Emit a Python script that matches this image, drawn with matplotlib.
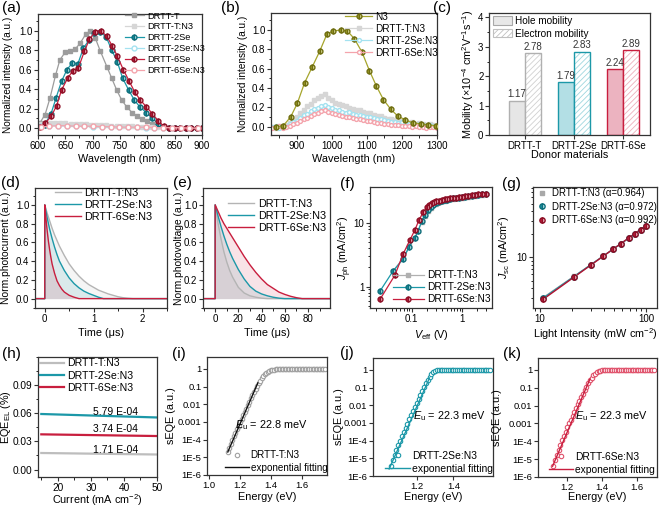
import matplotlib
matplotlib.use("Agg")
import matplotlib.pyplot as plt
from matplotlib.ticker import MultipleLocator, FixedLocator, FixedFormatter, NullLocator, LogLocator, NullFormatter, FormatStrFormatter
from matplotlib.patches import Patch

plt.rcParams['font.family'] = ['Liberation Sans', 'DejaVu Sans']
plt.rcParams['font.size'] = 7
plt.rcParams['mathtext.fontset'] = 'custom'
plt.rcParams['mathtext.rm'] = 'Liberation Sans'
plt.rcParams['mathtext.it'] = 'Liberation Sans:italic'
plt.rcParams['mathtext.bf'] = 'Liberation Sans:bold'
plt.rcParams['hatch.linewidth'] = 0.6

GRAY = '#9c9c9c'
TEAL = '#1c98a8'
RED = '#c81e3e'
LGRAY = '#d6d6d6'
LCYAN = '#a4e2f0'
LPINK = '#f4a4ac'
OLIVE = '#a6a52c'

# ---------------- (a) PL of neat films and blends ----------------
wl_T = [603, 613, 622, 632, 640, 650, 659, 668, 677, 687, 696, 705, 714, 726, 735, 744,
        753, 762, 772, 781, 790, 800, 809, 818]
pl_T = [0.05, 0.14, 0.31, 0.54, 0.70, 0.78, 0.79, 0.81, 0.87, 0.96, 1.00, 0.92, 0.79, 0.63,
        0.51, 0.39, 0.29, 0.22, 0.16, 0.12, 0.09, 0.07, 0.045, 0.024]
wl_2Se = [612, 624, 633, 643, 653, 663, 673, 683, 693, 703, 714, 725, 735, 745, 755, 766,
          776, 786, 798, 809, 820, 830, 840, 850, 860, 870, 880, 890, 900]
pl_2Se = [0.035, 0.15, 0.31, 0.48, 0.60, 0.67, 0.66, 0.82, 0.90, 0.98, 0.99, 0.93, 0.80,
          0.68, 0.51, 0.39, 0.29, 0.22, 0.16, 0.10, 0.045, 0.01, 0.0, 0.0, 0.0, 0.0, 0.0, 0.0, 0.0]
wl_6Se = [603, 613, 624, 634, 643, 654, 664, 674, 685, 694, 705, 715, 726, 736, 745, 756,
          767, 777, 787, 798, 809, 820, 830, 840, 850, 860, 870, 880, 890, 900]
pl_6Se = [0.01, 0.05, 0.12, 0.23, 0.39, 0.51, 0.59, 0.62, 0.79, 0.91, 0.99, 1.00, 0.94, 0.84,
          0.74, 0.60, 0.48, 0.37, 0.29, 0.22, 0.15, 0.075, 0.02, 0.0, 0.0, 0.0, 0.0, 0.0, 0.0, 0.0]
wl_TN3 = [603, 613, 622, 632, 641, 650, 660, 669, 678, 688, 697, 706, 716, 725, 734, 744,
          753, 762, 772, 781, 790, 800, 809, 818]
pl_TN3 = [0.04, 0.05, 0.05, 0.055, 0.05, 0.05, 0.045, 0.045, 0.04, 0.04, 0.035, 0.035, 0.03,
          0.03, 0.025, 0.025, 0.02, 0.02, 0.02, 0.015, 0.015, 0.01, 0.01, 0.01]
wl_blend = [605, 621, 637, 653, 669, 685, 701, 717, 733, 749, 765, 781, 797, 813, 829, 845,
            861, 877, 893]
pl_2SeN3 = [0.02, 0.025, 0.025, 0.02, 0.02, 0.02, 0.015, 0.015, 0.01, 0.01, 0.01, 0.01, 0.005,
            0.005, 0.005, 0.0, 0.0, 0.0, 0.0]
pl_6SeN3 = [0.01, 0.02, 0.025, 0.025, 0.02, 0.02, 0.02, 0.015, 0.015, 0.01, 0.01, 0.01, 0.01,
            0.005, 0.005, 0.005, 0.005, 0.0, 0.0]

# ---------------- (b) PL of N3 and blends ----------------
wl_N3 = [840, 861, 882, 901, 922, 944, 965, 986, 1004, 1025, 1044, 1064, 1086, 1107, 1127,
         1147, 1168, 1188, 1210, 1231, 1253, 1274, 1296]
pl_N3 = [0.0, 0.01, 0.10, 0.24, 0.455, 0.62, 0.78, 0.96, 0.99, 1.00, 0.99, 0.91, 0.77, 0.58,
         0.42, 0.28, 0.18, 0.11, 0.07, 0.04, 0.03, 0.02, 0.01]
wl_b = [830, 840, 850, 860, 870, 880, 890, 900, 910, 920, 930, 940, 950, 960, 970, 980, 990,
        1000, 1010, 1020, 1030, 1040, 1050, 1060, 1070, 1080, 1090, 1100, 1110, 1120, 1130,
        1140, 1150, 1160, 1170, 1180, 1190, 1200, 1210, 1220, 1230, 1240, 1250, 1260, 1270,
        1280, 1290, 1300]
pl_b_T = [0.00, -0.01, 0.01, 0.00, 0.02, 0.04, 0.06, 0.10, 0.14, 0.17, 0.21, 0.23, 0.28,
          0.30, 0.32, 0.34, 0.30, 0.28, 0.24, 0.23, 0.22, 0.21, 0.19, 0.18, 0.17, 0.17, 0.15,
          0.14, 0.14, 0.12, 0.11, 0.11, 0.09, 0.08, 0.08, 0.07, 0.06, 0.06, 0.05, 0.04, 0.05,
          0.03, 0.04, 0.03, 0.02, 0.03, 0.02, 0.01]
pl_b_2Se = [0.00, 0.01, -0.01, 0.01, 0.00, 0.03, 0.05, 0.06, 0.09, 0.12, 0.13, 0.16, 0.18,
            0.19, 0.21, 0.22, 0.20, 0.19, 0.17, 0.17, 0.15, 0.14, 0.15, 0.13, 0.12, 0.12, 0.11,
            0.10, 0.10, 0.09, 0.08, 0.08, 0.07, 0.06, 0.05, 0.05, 0.04, 0.05, 0.03, 0.03, 0.03,
            0.02, 0.03, 0.02, 0.01, 0.02, 0.01, 0.01]
pl_b_6Se = [-0.01, 0.00, 0.01, -0.01, 0.00, 0.01, 0.03, 0.04, 0.06, 0.08, 0.09, 0.11, 0.13,
            0.14, 0.16, 0.17, 0.15, 0.14, 0.13, 0.12, 0.11, 0.10, 0.10, 0.09, 0.08, 0.08, 0.07,
            0.06, 0.06, 0.05, 0.04, 0.04, 0.03, 0.03, 0.02, 0.02, 0.02, 0.01, 0.01, 0.01, 0.00,
            0.01, 0.00, 0.00, -0.01, 0.00, 0.00, -0.01]

# ---------------- (c) mobilities ----------------
donors = ['DRTT-T', 'DRTT-2Se', 'DRTT-6Se']
hole_mob = [1.17, 1.79, 2.24]
elec_mob = [2.78, 2.83, 2.89]

# ---------------- (d) TPC ----------------
tpc_t_T = [-0.2, 0.0, 0.0, 0.05, 0.1, 0.15, 0.2, 0.3, 0.4, 0.5, 0.6, 0.7, 0.8, 0.9, 1.0, 1.1,
           1.2, 1.3, 1.4, 1.5, 1.6, 1.7, 1.8, 2.7]
tpc_T = [0, 0, 1.0, 0.91, 0.83, 0.75, 0.68, 0.56, 0.46, 0.37, 0.30, 0.24, 0.19, 0.15, 0.12,
         0.09, 0.07, 0.05, 0.035, 0.02, 0.01, 0.004, 0.0, 0.0]
tpc_t_2Se = [-0.2, 0.0, 0.0, 0.05, 0.1, 0.15, 0.2, 0.25, 0.3, 0.4, 0.5, 0.6, 0.7, 0.8, 0.9,
             1.0, 1.1, 1.2, 2.7]
tpc_2Se = [0, 0, 1.0, 0.86, 0.74, 0.64, 0.55, 0.47, 0.40, 0.30, 0.22, 0.16, 0.115, 0.08,
           0.055, 0.035, 0.015, 0.0, 0.0]
tpc_t_6Se = [-0.2, 0.0, 0.0, 0.025, 0.05, 0.075, 0.1, 0.125, 0.15, 0.2, 0.25, 0.3, 0.35, 0.4,
             0.5, 0.6, 0.7, 2.7]
tpc_6Se = [0, 0, 1.0, 0.85, 0.72, 0.61, 0.52, 0.44, 0.37, 0.27, 0.19, 0.14, 0.10, 0.07,
           0.035, 0.015, 0.0, 0.0]

# ---------------- (e) TPV ----------------
tpv_t_T = [-10, 0, 0, 2.5, 5, 7.5, 10, 12.5, 15, 20, 25, 30, 35, 40, 45, 100]
tpv_T = [0, 0, 1.0, 0.80, 0.64, 0.50, 0.39, 0.30, 0.23, 0.12, 0.06, 0.03, 0.015, 0.005, 0.0, 0.0]
tpv_t_2Se = [-10, 0, 0, 2.5, 5, 7.5, 10, 12.5, 15, 20, 25, 30, 35, 40, 45, 50, 55, 60, 100]
tpv_2Se = [0, 0, 1.0, 0.88, 0.77, 0.67, 0.58, 0.50, 0.43, 0.31, 0.21, 0.13, 0.08, 0.05, 0.03,
           0.015, 0.005, 0.0, 0.0]
tpv_t_6Se = [-10, 0, 0, 2.5, 5, 7.5, 10, 12.5, 15, 20, 25, 30, 35, 40, 45, 50, 55, 60, 65, 70,
             75, 100]
tpv_6Se = [0, 0, 1.0, 0.93, 0.86, 0.80, 0.75, 0.70, 0.65, 0.55, 0.45, 0.36, 0.28, 0.21, 0.15,
           0.11, 0.07, 0.045, 0.025, 0.01, 0.0, 0.0]

# ---------------- (f) Jph vs Veff ----------------
veff_T = [0.043, 0.068, 0.09, 0.116, 0.135, 0.158, 0.183, 0.21, 0.24, 0.27, 0.31, 0.35, 0.40,
          0.45, 0.50, 0.57, 0.65, 0.75, 0.87, 1.0, 1.15, 1.33, 1.55, 1.8, 2.1, 2.5, 3.0]
jph_T = [1.75, 2.8, 4.3, 5.9, 7.6, 10.3, 13.0, 15.5, 17.5, 19.0, 20.3, 21.2, 22.0, 22.6, 23.1,
         23.6, 24.0, 24.4, 24.8, 25.2, 25.6, 26.1, 26.6, 27.0, 27.4, 27.8, 28.2]
veff_2Se = [0.0237, 0.0433, 0.068, 0.0897, 0.116, 0.135, 0.158, 0.183, 0.21, 0.24, 0.27, 0.31,
            0.35, 0.40, 0.45, 0.50, 0.57, 0.65, 0.75, 0.87, 1.0, 1.15, 1.33, 1.55, 1.8, 2.1,
            2.5, 3.0]
jph_2Se = [0.85, 1.78, 2.7, 4.27, 5.8, 7.6, 10.6, 13.5, 15.8, 17.8, 19.2, 20.5, 21.4, 22.3,
           22.9, 23.4, 23.9, 24.4, 24.8, 25.2, 25.6, 26.0, 26.5, 27.0, 27.4, 27.8, 28.2, 28.6]
veff_6Se = [0.0237, 0.0468, 0.068, 0.093, 0.116, 0.141, 0.17, 0.198, 0.22, 0.25, 0.28, 0.31,
            0.35, 0.40, 0.45, 0.50, 0.57, 0.65, 0.75, 0.87, 1.0, 1.15, 1.33, 1.55, 1.8, 2.1,
            2.5, 3.0]
jph_6Se = [0.63, 1.52, 3.27, 5.45, 7.8, 11.3, 14.9, 17.6, 19.2, 20.4, 21.2, 21.9, 22.5, 23.1,
           23.6, 24.0, 24.4, 24.8, 25.2, 25.6, 26.0, 26.4, 26.9, 27.4, 27.8, 28.2, 28.6, 29.0]

# ---------------- (g) Jsc vs light intensity ----------------
light = [10.7, 21, 30, 39.6, 49, 58, 69, 78.7, 89, 100]
jsc_T = [3.0, 5.7, 8.0, 10.5, 12.9, 15.1, 17.8, 20.2, 22.6, 25.2]
jsc_2Se = [2.95, 5.6, 7.95, 10.4, 12.8, 15.1, 17.8, 20.2, 22.7, 25.5]
jsc_6Se = [2.85, 5.5, 7.9, 10.4, 12.8, 15.1, 17.9, 20.4, 23.0, 25.9]
fit_light = [10.7, 100]
fit_T = [3.0, 25.2]
fit_2Se = [2.95, 25.5]
fit_6Se = [2.85, 25.9]
alphas = ['0.964', '0.972', '0.992']

# ---------------- (h) EQE_EL ----------------
cur = [15, 50]
eqe_T = [0.0176, 0.0160]
eqe_2Se = [0.0592, 0.0555]
eqe_6Se = [0.0375, 0.0357]
eqe_lbl = ['1.71 E-04', '5.79 E-04', '3.74 E-04']

# ---------------- (i)-(k) sEQE ----------------
E_i = [1.12, 1.13, 1.14, 1.15, 1.16, 1.17, 1.18, 1.19, 1.20, 1.21, 1.22, 1.23, 1.24, 1.25,
       1.26, 1.27, 1.28, 1.29, 1.30, 1.31, 1.32, 1.33, 1.34, 1.35, 1.36, 1.37, 1.38, 1.39,
       1.40, 1.41, 1.42, 1.43, 1.44, 1.45, 1.46, 1.47, 1.48, 1.49, 1.50, 1.51, 1.52, 1.53,
       1.54, 1.55, 1.56, 1.57, 1.58, 1.59, 1.60, 1.61, 1.62, 1.63, 1.64, 1.65, 1.66, 1.67,
       1.68, 1.69, 1.70, 1.71, 1.72, 1.73, 1.74, 1.75]
lg_i = [-4.70, -4.45, -4.22, -4.02, -3.82, -3.62, -3.42, -3.22, -3.02, -2.82, -2.62, -2.43,
        -2.24, -2.05, -1.86, -1.67, -1.49, -1.31, -1.14, -0.97, -0.81, -0.66, -0.52, -0.40,
        -0.30, -0.22, -0.15, -0.10, -0.07, -0.05, -0.04, -0.03, -0.03, -0.03, -0.03, -0.03,
        -0.02, -0.02, -0.02, -0.02, -0.02, -0.02, -0.02, -0.02, -0.02, -0.01, -0.01, -0.01,
        -0.01, -0.01, -0.01, -0.01, -0.01, -0.01, -0.01, 0.0, 0.0, 0.0, 0.0, 0.0, 0.0, 0.0,
        0.0, 0.0]
fit_i_E = [1.12, 1.315]
fit_i_y = [2.0e-5, 0.16]

E_j = [1.06, 1.07, 1.08, 1.09, 1.10, 1.11, 1.12, 1.13, 1.14, 1.15, 1.16, 1.17, 1.18, 1.19,
       1.20, 1.21, 1.22, 1.23, 1.24, 1.25, 1.26, 1.27, 1.28, 1.29, 1.30, 1.31, 1.32, 1.33,
       1.34, 1.35, 1.36, 1.37, 1.38, 1.39, 1.40, 1.41, 1.42, 1.43, 1.44, 1.45, 1.46, 1.47,
       1.48, 1.49, 1.50, 1.51, 1.52, 1.53, 1.54, 1.55, 1.56, 1.57, 1.58, 1.59, 1.60]
lg_j = [-5.45, -5.10, -4.80, -4.52, -4.25, -4.00, -3.76, -3.52, -3.28, -3.04, -2.80, -2.56,
        -2.32, -2.09, -1.86, -1.63, -1.40, -1.18, -0.96, -0.75, -0.56, -0.39, -0.25, -0.14,
        -0.07, -0.03, -0.02, -0.02, -0.02, -0.01, -0.01, -0.01, -0.01, -0.01, -0.01, -0.01,
        0.0, 0.0, 0.0, 0.0, 0.0, 0.0, 0.0, 0.0, 0.0, 0.0, 0.0, 0.0, 0.0, 0.0, 0.0, 0.0, 0.0,
        0.0, 0.0]
fit_j_E = [1.05, 1.27]
fit_j_y = [2.5e-6, 0.35]

E_k = [1.12, 1.13, 1.14, 1.15, 1.16, 1.17, 1.18, 1.19, 1.20, 1.21, 1.22, 1.23, 1.24, 1.25,
       1.26, 1.27, 1.28, 1.29, 1.30, 1.31, 1.32, 1.33, 1.34, 1.35, 1.36, 1.37, 1.38, 1.39,
       1.40, 1.41, 1.42, 1.43, 1.44, 1.45, 1.46, 1.47, 1.48, 1.49, 1.50, 1.51, 1.52, 1.53,
       1.54, 1.55, 1.56, 1.57, 1.58, 1.59, 1.60, 1.61, 1.62, 1.63, 1.64, 1.65, 1.66, 1.67,
       1.68, 1.69, 1.70]
lg_k = [-5.40, -5.05, -4.75, -4.47, -4.20, -3.94, -3.69, -3.45, -3.22, -3.00, -2.78, -2.56,
        -2.35, -2.14, -1.93, -1.72, -1.52, -1.32, -1.12, -0.93, -0.75, -0.58, -0.43, -0.30,
        -0.20, -0.12, -0.07, -0.04, -0.02, -0.02, -0.01, -0.01, -0.01, -0.01, -0.01, -0.01,
        -0.01, 0.0, 0.0, 0.0, 0.0, 0.0, 0.0, 0.0, 0.0, 0.0, 0.0, 0.0, 0.0, 0.0, 0.0, 0.0, 0.0,
        0.0, 0.0, 0.0, 0.0, 0.0, 0.0]
fit_k_E = [1.115, 1.33]
fit_k_y = [4.0e-6, 0.3]

seqe_ticks = [1e-6, 1e-5, 1e-4, 1e-3, 1e-2, 1e-1, 1]
seqe_lbls = ['1E-6', '1E-5', '1E-4', '0.001', '0.01', '0.1', '1']


def box(l, t, r, b):
    return [l / 661, 1 - b / 507, (r - l) / 661, (b - t) / 507]


def new_ax(l, t, r, b, xl_y, yl_x):
    # axes from pixel box; x/y label centres given in pixels
    ax = fig.add_axes(box(l, t, r, b))
    for s in ax.spines.values():
        s.set_linewidth(0.9)
        s.set_color('#333333')
    ax.tick_params(direction='out', length=3, width=0.8, color='#333333',
                   labelsize=7.0, pad=1.0, top=False, right=False)
    ax.tick_params(which='minor', length=1.8, width=0.6)
    ax.xaxis.set_label_coords(0.5, -((xl_y - 5.5) - b) / (b - t))
    ax.yaxis.set_label_coords((yl_x + 5.5 - l) / (r - l), 0.5)
    return ax


LAB = 7.8
fig = plt.figure(figsize=(6.61, 5.07), dpi=100)

# ---- (a)
ax = new_ax(38, 14, 202, 135, 160, 8)
ax.plot(wl_T, pl_T, color=GRAY, lw=0.9, marker='s', ms=3, label='DRTT-T')
ax.plot(wl_TN3, pl_TN3, color=LGRAY, lw=0.9, marker='s', ms=2.5, label='DRTT-T:N3')
ax.plot(wl_2Se, pl_2Se, color=TEAL, lw=0.9, marker='o', ms=3.5, mec='#0d6f7c',
        fillstyle='left', markerfacecoloralt='#bfe9ee', label='DRTT-2Se')
ax.plot(wl_blend, pl_2SeN3, color=LCYAN, lw=0.9, marker='o', ms=3.5, mfc='white',
        label='DRTT-2Se:N3')
ax.plot(wl_6Se, pl_6Se, color=RED, lw=0.9, marker='o', ms=3.5, mec='#8e0f26',
        fillstyle='left', markerfacecoloralt='#f3b9c4', label='DRTT-6Se')
ax.plot(wl_blend, pl_6SeN3, color=LPINK, lw=0.9, marker='o', ms=3.5, mfc='white',
        label='DRTT-6Se:N3')
ax.set_xlim(600, 900)
ax.set_ylim(-0.07, 1.17)
ax.xaxis.set_major_locator(MultipleLocator(50))
ax.xaxis.set_minor_locator(MultipleLocator(25))
ax.yaxis.set_major_locator(MultipleLocator(0.2))
ax.yaxis.set_minor_locator(MultipleLocator(0.1))
ax.yaxis.set_major_formatter(FormatStrFormatter('%.1f'))
ax.set_xlabel('Wavelength (nm)', fontsize=LAB)
ax.set_ylabel('Normalized intensity (a.u.)', fontsize=7.2)
ax.legend(loc='upper left', bbox_to_anchor=(0.53, 1.02), frameon=False, fontsize=6.7,
          handlelength=2.0, handletextpad=0.4, labelspacing=0.2, borderpad=0, borderaxespad=0)

# ---- (b)
ax = new_ax(271, 13, 437, 135, 160, 243)
ax.plot(wl_N3, pl_N3, color=OLIVE, lw=0.9, marker='o', ms=3.5, mec='#6f6e10',
        fillstyle='left', markerfacecoloralt='#dcdc9a', label='N3', zorder=5)
ax.plot(wl_b, pl_b_T, color=LGRAY, lw=0.9, marker='s', ms=2.3, label='DRTT-T:N3')
ax.plot(wl_b, pl_b_2Se, color=LCYAN, lw=0.9, marker='o', ms=2.8, mfc='white',
        label='DRTT-2Se:N3')
ax.plot(wl_b, pl_b_6Se, color=LPINK, lw=0.9, marker='o', ms=2.8, mfc='white',
        label='DRTT-6Se:N3')
ax.set_xlim(826, 1300)
ax.set_ylim(-0.086, 1.176)
ax.xaxis.set_major_locator(MultipleLocator(100))
ax.xaxis.set_minor_locator(MultipleLocator(50))
ax.yaxis.set_major_locator(MultipleLocator(0.2))
ax.yaxis.set_minor_locator(MultipleLocator(0.1))
ax.yaxis.set_major_formatter(FormatStrFormatter('%.1f'))
ax.set_xlabel('Wavelength (nm)', fontsize=LAB)
ax.set_ylabel('Normalized intensity (a.u.)', fontsize=7.2)
ax.legend(loc='upper left', bbox_to_anchor=(0.446, 1.01), frameon=False, fontsize=7.2,
          handlelength=2.7, handletextpad=0.3, labelspacing=0.2, borderpad=0, borderaxespad=0)

# ---- (c)
ax = new_ax(489, 13, 650, 135, 155, 470)
xs = [0, 1, 2]
bw = 0.33
edge_c = ['#b0b0b0', TEAL, RED]
hole_c = ['#e6e6e6', '#b3dfe5', '#ecb3c0']
hatch_c = ['#d0d0d0', '#9ed6de', '#eeb0bc']
for i in xs:
    ax.bar(xs[i] - bw / 2, hole_mob[i], bw, color=hole_c[i], edgecolor=edge_c[i], lw=1.0)
    ax.bar(xs[i] + bw / 2, elec_mob[i], bw, color='white', edgecolor=hatch_c[i], lw=0,
           hatch='//////')
    ax.bar(xs[i] + bw / 2, elec_mob[i], bw, color='none', edgecolor=edge_c[i], lw=1.0)
    ax.text(xs[i] - bw / 2, hole_mob[i] + 0.05, f'{hole_mob[i]:.2f}', ha='center',
            va='bottom', fontsize=7, color='#333333')
    ax.text(xs[i] + bw / 2, elec_mob[i] + 0.05, f'{elec_mob[i]:.2f}', ha='center',
            va='bottom', fontsize=7, color='#333333')
ax.set_xlim(-0.73, 2.55)
ax.set_ylim(0, 4.15)
ax.set_xticks(xs)
ax.set_xticklabels(donors)
ax.yaxis.set_major_locator(MultipleLocator(1))
ax.yaxis.set_minor_locator(MultipleLocator(0.5))
ax.set_xlabel('Donor materials', fontsize=LAB)
ax.set_ylabel('Mobility (×10$^{-4}$ cm$^{2}$V$^{-1}$s$^{-1}$)', fontsize=LAB)
hs = [Patch(facecolor='#e8e8e8', edgecolor='#a8a8a8', lw=0.8),
      Patch(facecolor='white', edgecolor='#c0c0c0', hatch='//////', lw=0.8)]
ax.legend(hs, ['Hole mobility', 'Electron mobility'], loc='upper left',
          bbox_to_anchor=(0.025, 0.975), frameon=False, fontsize=7.2, handlelength=1.9,
          handleheight=0.9, handletextpad=0.3, labelspacing=0.25, borderpad=0, borderaxespad=0)


def decay_panel(ax, series, xlim, ylabel, legpos):
    for t, v, c, lab in series:
        ax.fill_between(t, v, 0, color=c, alpha=0.12, lw=0)
    for t, v, c, lab in series:
        ax.plot(t, v, color=c, lw=1.0, label=lab)
    ax.set_xlim(*xlim)
    ax.set_ylim(-0.1, 1.18)
    ax.yaxis.set_major_locator(MultipleLocator(0.2))
    ax.yaxis.set_minor_locator(MultipleLocator(0.1))
    ax.yaxis.set_major_formatter(FormatStrFormatter('%.1f'))
    ax.set_xlabel('Time (μs)', fontsize=LAB)
    ax.set_ylabel(ylabel, fontsize=7.4)
    ax.legend(loc='upper left', bbox_to_anchor=legpos, frameon=False, fontsize=7.8,
              handlelength=2.4, handletextpad=0.3, labelspacing=0.18, borderpad=0,
              borderaxespad=0)


# ---- (d)
ax = new_ax(35, 188, 167, 308, 333, 6)
decay_panel(ax, [(tpc_t_T, tpc_T, '#b4b4b4', 'DRTT-T:N3'),
                 (tpc_t_2Se, tpc_2Se, TEAL, 'DRTT-2Se:N3'),
                 (tpc_t_6Se, tpc_6Se, RED, 'DRTT-6Se:N3')],
            (-0.2, 2.5), 'Norm.photocurrent (a.u.)', (0.15, 1.0))
ax.xaxis.set_major_locator(MultipleLocator(1))
ax.xaxis.set_minor_locator(MultipleLocator(0.5))

# ---- (e)
ax = new_ax(203, 188, 330, 308, 333, 178)
decay_panel(ax, [(tpv_t_T, tpv_T, '#b4b4b4', 'DRTT-T:N3'),
                 (tpv_t_2Se, tpv_2Se, TEAL, 'DRTT-2Se:N3'),
                 (tpv_t_6Se, tpv_6Se, RED, 'DRTT-6Se:N3')],
            (-10.5, 99), 'Norm.photovoltage (a.u.)', (0.2, 0.91))
ax.xaxis.set_major_locator(MultipleLocator(20))
ax.xaxis.set_minor_locator(MultipleLocator(10))

# ---- (f)
ax = new_ax(370, 187, 492, 308, 333, 349)
ax.plot(veff_T, jph_T, color='#b0b0b0', lw=0.9, marker='s', ms=3, label='DRTT-T:N3')
ax.plot(veff_2Se, jph_2Se, color=TEAL, lw=0.9, marker='o', ms=3.5, mec='#0d6f7c',
        fillstyle='left', markerfacecoloralt='#bfe9ee', label='DRTT-2Se:N3')
ax.plot(veff_6Se, jph_6Se, color=RED, lw=0.9, marker='o', ms=3.5, mec='#8e0f26',
        fillstyle='left', markerfacecoloralt='#f3b9c4', label='DRTT-6Se:N3')
ax.set_xscale('log')
ax.set_yscale('log')
ax.set_xlim(0.015, 3.9)
ax.set_ylim(0.46, 37)
ax.xaxis.set_major_locator(FixedLocator([0.1, 1]))
ax.xaxis.set_major_formatter(FixedFormatter(['0.1', '1']))
ax.yaxis.set_major_locator(FixedLocator([1, 10]))
ax.yaxis.set_major_formatter(FixedFormatter(['1', '10']))
ax.xaxis.set_minor_locator(LogLocator(subs=range(2, 10)))
ax.yaxis.set_minor_locator(LogLocator(subs=range(2, 10)))
ax.xaxis.set_minor_formatter(NullFormatter())
ax.yaxis.set_minor_formatter(NullFormatter())
ax.set_xlabel(r'$\mathit{V}_{\mathrm{eff}}$ (V)', fontsize=LAB)
ax.set_ylabel(r'$\mathit{J}_{\mathrm{ph}}$ (mA/cm$^{2}$)', fontsize=LAB)
ax.legend(loc='lower left', bbox_to_anchor=(0.19, 0.03), frameon=False, fontsize=7.3,
          handlelength=3.0, handletextpad=0.3, labelspacing=0.2, borderpad=0, borderaxespad=0)

# ---- (g)
ax = new_ax(533, 187, 657, 308, 332, 507)
ax.plot(fit_light, fit_T, color='#a0a0a0', lw=0.9)
ax.plot(fit_light, fit_2Se, color=TEAL, lw=0.9)
ax.plot(fit_light, fit_6Se, color='#b3102e', lw=1.0)
ax.plot(light, jsc_T, ls='none', color='#a8a8a8', marker='s', ms=3.2,
        label=f'DRTT-T:N3 (α={alphas[0]})')
ax.plot(light, jsc_2Se, ls='none', color=TEAL, marker='o', ms=3.8, mec='#0d6f7c',
        fillstyle='left', markerfacecoloralt='#bfe9ee', label=f'DRTT-2Se:N3 (α={alphas[1]})')
ax.plot(light, jsc_6Se, ls='none', color=RED, marker='o', ms=3.8, mec='#8e0f26',
        fillstyle='left', markerfacecoloralt='#f3b9c4', label=f'DRTT-6Se:N3 (α={alphas[2]})')
ax.set_xscale('log')
ax.set_yscale('log')
ax.set_xlim(8.6, 127)
ax.set_ylim(2.2, 82)
ax.xaxis.set_major_locator(FixedLocator([10, 100]))
ax.xaxis.set_major_formatter(FixedFormatter(['10', '100']))
ax.yaxis.set_major_locator(FixedLocator([10]))
ax.yaxis.set_major_formatter(FixedFormatter(['10']))
ax.xaxis.set_minor_locator(LogLocator(subs=range(2, 10)))
ax.yaxis.set_minor_locator(LogLocator(subs=range(2, 10)))
ax.xaxis.set_minor_formatter(NullFormatter())
ax.yaxis.set_minor_formatter(NullFormatter())
ax.set_xlabel('Light Intensity (mW cm$^{-2}$)', fontsize=LAB)
ax.set_ylabel(r'$\mathit{J}_{\mathrm{sc}}$ (mA/cm$^{2}$)', fontsize=LAB)
ax.legend(loc='upper left', bbox_to_anchor=(0.03, 0.99), frameon=False, fontsize=6.9,
          handlelength=1.0, handletextpad=0.6, labelspacing=0.35, borderpad=0, borderaxespad=0)

# ---- (h)
ax = new_ax(38, 357, 157, 477, 498, 8)
ax.plot(cur, eqe_T, color='#bdbdbd', lw=1.6, label='DRTT-T:N3')
ax.plot(cur, eqe_2Se, color=TEAL, lw=1.6, label='DRTT-2Se:N3')
ax.plot(cur, eqe_6Se, color=RED, lw=1.6, label='DRTT-6Se:N3')
ax.text(37.4, 0.0615, eqe_lbl[1], ha='center', va='center', fontsize=7.5)
ax.text(37.4, 0.0427, eqe_lbl[2], ha='center', va='center', fontsize=7.5)
ax.text(37.4, 0.0213, eqe_lbl[0], ha='center', va='center', fontsize=7.5)
ax.set_xlim(14, 50)
ax.set_ylim(-0.008, 0.12)
ax.xaxis.set_major_locator(MultipleLocator(10))
ax.xaxis.set_minor_locator(MultipleLocator(5))
ax.yaxis.set_major_locator(FixedLocator([0, 0.03, 0.06, 0.09]))
ax.yaxis.set_major_formatter(FixedFormatter(['0.00', '0.03', '0.06', '0.09']))
ax.yaxis.set_minor_locator(MultipleLocator(0.015))
ax.tick_params(labelsize=7.3)
ax.set_xlabel('Current (mA cm$^{-2}$)', fontsize=LAB)
ax.set_ylabel('EQE$_{\\mathrm{EL}}$ (%)', fontsize=LAB)
ax.legend(loc='upper left', bbox_to_anchor=(0.017, 0.99), frameon=False, fontsize=7.6,
          handlelength=2.3, handletextpad=0.3, labelspacing=0.22, borderpad=0, borderaxespad=0)


def seqe_panel(ax, E, lg, fitE, fity, col, edge, lab, eu, txtpos, xlim, xticks, legx, fs):
    vals = [10 ** v for v in lg]
    ax.plot(E, vals, ls='none', marker='o', ms=3.2, mfc='white', mec=edge, mew=0.8,
            label=lab)
    ax.plot(fitE, fity, color=col, lw=1.0, label='exponential fitting')
    ax.set_yscale('log')
    ax.set_xlim(*xlim)
    ax.set_ylim(1e-6, 4.7)
    ax.yaxis.set_major_locator(FixedLocator(seqe_ticks))
    ax.yaxis.set_major_formatter(FixedFormatter(seqe_lbls))
    ax.yaxis.set_minor_locator(NullLocator())
    ax.xaxis.set_major_locator(FixedLocator(xticks))
    ax.xaxis.set_major_formatter(FixedFormatter([f'{x:.1f}' for x in xticks]))
    ax.tick_params(labelsize=6.8)
    ax.text(txtpos[0], txtpos[1], r'$\mathit{E}_{\mathrm{u}}$ = ' + eu + ' meV',
            transform=ax.transAxes, ha='center', va='center', fontsize=7.8)
    ax.set_xlabel('Energy (eV)', fontsize=LAB)
    ax.set_ylabel('sEQE (a.u.)', fontsize=LAB)
    ax.legend(loc='lower left', bbox_to_anchor=(legx, 0.02), frameon=False, fontsize=fs,
              handlelength=2.4, handletextpad=0.2, labelspacing=0.25, borderpad=0,
              borderaxespad=0)


ax = new_ax(207, 357, 327, 475, 498, 170)
seqe_panel(ax, E_i, lg_i, fit_i_E, fit_i_y, '#111111', '#a0a0a0', 'DRTT-T:N3', '22.8',
           (0.54, 0.42), (0.985, 1.764), [1.0, 1.2, 1.4, 1.6], 0.15, 7.1)
ax = new_ax(373, 358, 493, 476, 497, 338)
seqe_panel(ax, E_j, lg_j, fit_j_E, fit_j_y, TEAL, TEAL, 'DRTT-2Se:N3', '22.3',
           (0.64, 0.51), (0.962, 1.616), [1.2, 1.4], 0.1, 7.5)
ax = new_ax(538, 358, 657, 477, 497, 497)
seqe_panel(ax, E_k, lg_k, fit_k_E, fit_k_y, RED, '#e0506a', 'DRTT-6Se:N3', '22.3',
           (0.62, 0.515), (1.031, 1.717), [1.2, 1.4, 1.6], 0.09, 7.4)

# panel letters
for lt, (x, y) in zip('abcdefghijk', [(2, 1), (221, 1), (433, 1), (1, 176), (173, 176),
                                      (340, 177), (502, 177), (2, 347), (172, 347),
                                      (340, 346), (503, 347)]):
    fig.text(x / 661, 1 - y / 507, f'({lt})', fontsize=11, ha='left', va='top')

fig.savefig('out.png', dpi=100)
